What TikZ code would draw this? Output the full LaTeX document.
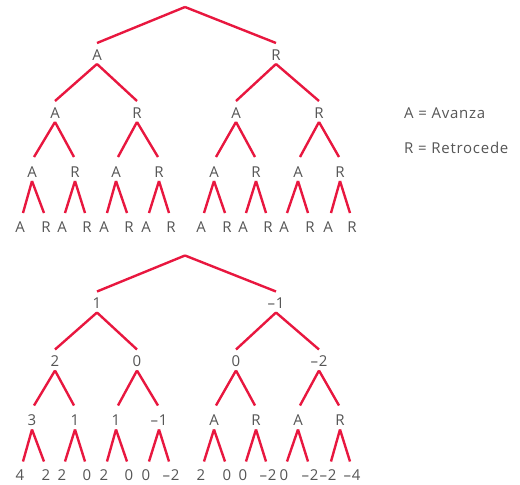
\documentclass[tikz,border=0pt]{standalone}
\usepackage{fontspec}
\setmainfont{Open Sans}[LetterSpace=5]
\definecolor{treered}{HTML}{E8173F}
\definecolor{lblgrey}{HTML}{555555}
\tikzset{
  lbl/.style={inner sep=0pt, text=lblgrey, font=\fontsize{15}{17}\selectfont, anchor=center},
  legend/.style={inner sep=0pt, text=lblgrey, font=\fontsize{15}{17}\selectfont, anchor=west},
  edge/.style={draw=treered, line width=2.4pt, line cap=butt, line join=miter}
}
\newcommand\mktree[6]{% #1 prefix, #2 yoffset, #3 L1 list, #4 L2 list, #5 L3 list, #6 L4 list
  \coordinate (#1r) at (185,7+#2);
  \foreach \x/\t [count=\i] in {#3} {\node[lbl] (#1a\i) at (\x,55+#2) {\t};
    \draw[edge] (#1r) -- ([yshift=12pt]#1a\i.center);}
  \foreach \x/\t [count=\i] in {#4} {\node[lbl] (#1b\i) at (\x,113+#2) {\t};
    \pgfmathtruncatemacro\p{(\i+1)/2}
    \draw[edge] ([yshift=-9pt]#1a\p.center) -- ([yshift=12pt]#1b\i.center);}
  \foreach \x/\t [count=\i] in {#5} {\node[lbl] (#1c\i) at (\x,172+#2) {\t};
    \pgfmathtruncatemacro\p{(\i+1)/2}
    \pgfmathsetmacro\dx{isodd(\i)?2:-1}
    \draw[edge] ([yshift=-9pt]#1b\p.center) -- ([xshift=\dx pt,yshift=15pt]#1c\i.center);}
  \foreach \x/\t [count=\i] in {#6} {\node[lbl] (#1d\i) at (\x,227+#2) {\t};
    \pgfmathtruncatemacro\p{(\i+1)/2}
    \pgfmathsetmacro\dx{isodd(\i)?3:-2}
    \draw[edge] ([yshift=-9pt]#1c\p.center) -- ([xshift=\dx pt,yshift=14pt]#1d\i.center);}
}
\begin{document}
\begin{tikzpicture}[x=1pt,y=-1pt]
\useasboundingbox (0,0) rectangle (520,485);
\mktree{t}{0}{97/A,276/R}{55/A,137/R,236/A,319/R}
  {32/A,75/R,116/A,159/R,214/A,256/R,298/A,340/R}
  {20/A,46/R,62/A,87/R,104/A,129/R,146/A,171/R,201/A,227/R,243/A,268/R,284/A,310/R,328/A,352/R}
\mktree{b}{248.5}{97/1,276/–1}{55/2,137/0,236/0,319/–2}
  {32/3,75/1,116/1,159/–1,214/A,256/R,298/A,340/R}
  {20/4,46/2,62/2,87/0,104/2,129/0,146/0,171/–2,201/2,227/0,243/0,268/–2,284/0,310/–2,328/–2,352/–4}
\node[legend] (la) at (404,113) {A = Avanza};
\node[legend] (lr) at (404,148) {R = Retrocede};
\end{tikzpicture}
\end{document}
